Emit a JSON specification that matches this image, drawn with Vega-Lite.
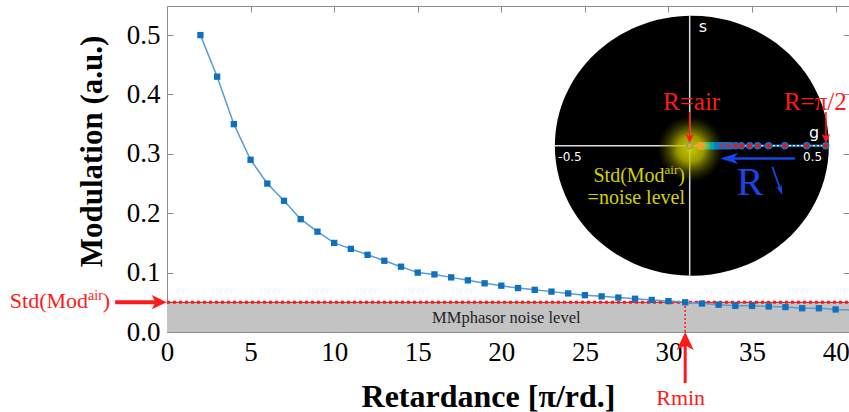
{
  "$schema": "https://vega.github.io/schema/vega-lite/v6.json",
  "width": 682,
  "height": 326,
  "autosize": {"type": "none"},
  "padding": {"left": 167, "top": 6, "right": 0, "bottom": 80},
  "background": "white",
  "config": {"view": {"stroke": null}},
  "datasets": {
    "curve": [
      {"retardance": 2, "modulation": 0.5},
      {"retardance": 3, "modulation": 0.43},
      {"retardance": 4, "modulation": 0.35},
      {"retardance": 5, "modulation": 0.29},
      {"retardance": 6, "modulation": 0.25},
      {"retardance": 7, "modulation": 0.221},
      {"retardance": 8, "modulation": 0.19},
      {"retardance": 9, "modulation": 0.169},
      {"retardance": 10, "modulation": 0.15},
      {"retardance": 11, "modulation": 0.14},
      {"retardance": 12, "modulation": 0.13},
      {"retardance": 13, "modulation": 0.12},
      {"retardance": 14, "modulation": 0.11},
      {"retardance": 15, "modulation": 0.1},
      {"retardance": 16, "modulation": 0.097},
      {"retardance": 17, "modulation": 0.092},
      {"retardance": 18, "modulation": 0.087},
      {"retardance": 19, "modulation": 0.082},
      {"retardance": 20, "modulation": 0.078},
      {"retardance": 21, "modulation": 0.074},
      {"retardance": 22, "modulation": 0.071},
      {"retardance": 23, "modulation": 0.068},
      {"retardance": 24, "modulation": 0.065},
      {"retardance": 25, "modulation": 0.062},
      {"retardance": 26, "modulation": 0.06},
      {"retardance": 27, "modulation": 0.058},
      {"retardance": 28, "modulation": 0.056},
      {"retardance": 29, "modulation": 0.054},
      {"retardance": 30, "modulation": 0.052},
      {"retardance": 31, "modulation": 0.05},
      {"retardance": 32, "modulation": 0.048},
      {"retardance": 33, "modulation": 0.046},
      {"retardance": 34, "modulation": 0.044},
      {"retardance": 35, "modulation": 0.044},
      {"retardance": 36, "modulation": 0.043},
      {"retardance": 37, "modulation": 0.042},
      {"retardance": 38, "modulation": 0.04},
      {"retardance": 39, "modulation": 0.04},
      {"retardance": 40, "modulation": 0.038},
      {"retardance": 41, "modulation": 0.037}
    ]
  },
  "resolve": {"scale": {"x": "independent", "y": "independent"}},
  "layer": [
    {
      "layer": [
        {
          "data": {"values": [{}]},
          "mark": {"type": "rect", "color": "#c3c3c3"},
          "encoding": {
            "x": {"datum": 0, "type": "quantitative", "scale": {"domain": [0, 40.8], "nice": false, "zero": false},
              "axis": {"values": [0, 5, 10, 15, 20, 25, 30, 35, 40], "format": "d", "grid": false, "tickSize": -6, "labelPadding": 13, "labelFont": "Liberation Serif", "labelFontSize": 27, "labelColor": "black", "labelFlush": false, "labelOverlap": false, "domainColor": "#8c8c8c", "tickColor": "#8c8c8c", "title": "Retardance [π/rd.]", "titleFont": "Liberation Serif", "titleFontSize": 32, "titleFontWeight": "bold", "titleColor": "black", "titleX": 321, "titleY": 74, "titleBaseline": "alphabetic"}},
            "x2": {"datum": 40.8},
            "y": {"datum": 0, "type": "quantitative", "scale": {"domain": [0, 0.549], "nice": false, "zero": false},
              "axis": {"values": [0, 0.1, 0.2, 0.3, 0.4, 0.5], "format": ".1f", "grid": false, "tickSize": -6, "labelPadding": 13, "labelFont": "Liberation Serif", "labelFontSize": 27, "labelColor": "black", "labelFlush": false, "labelOverlap": false, "domainColor": "#8c8c8c", "tickColor": "#8c8c8c", "title": "Modulation (a.u.)", "titleFont": "Liberation Serif", "titleFontSize": 31, "titleFontWeight": "bold", "titleColor": "black", "titleX": -66, "titleY": 145, "titleBaseline": "alphabetic"}},
            "y2": {"datum": 0.05}
          }
        },
        {
          "data": {"values": [{}]},
          "mark": {"type": "text", "text": "MMphasor noise level", "font": "Liberation Serif", "fontSize": 16.5, "color": "#222222", "align": "center", "baseline": "alphabetic"},
          "encoding": {"x": {"datum": 20.3, "type": "quantitative"}, "y": {"datum": 0.0152, "type": "quantitative"}}
        },
        {
          "data": {"values": [{}]},
          "mark": {"type": "rule", "color": "#a01818", "strokeWidth": 1},
          "encoding": {"x": {"datum": 0, "type": "quantitative"}, "x2": {"datum": 40.8}, "y": {"datum": 0.05, "type": "quantitative"}}
        },
        {
          "data": {"values": [{}]},
          "mark": {"type": "rule", "color": "#ff1a1a", "strokeWidth": 3, "strokeDash": [3, 3]},
          "encoding": {"x": {"datum": 0, "type": "quantitative"}, "x2": {"datum": 40.8}, "y": {"datum": 0.05, "type": "quantitative"}}
        },
        {
          "data": {"values": [{}]},
          "mark": {"type": "rule", "color": "#ff1a1a", "strokeWidth": 1.5, "strokeDash": [2, 2]},
          "encoding": {"x": {"datum": 31, "type": "quantitative"}, "y": {"datum": 0, "type": "quantitative"}, "y2": {"datum": 0.05}}
        },
        {
          "data": {"name": "curve"},
          "mark": {"type": "line", "color": "#5b9bd5", "strokeWidth": 1.5},
          "encoding": {"x": {"field": "retardance", "type": "quantitative"}, "y": {"field": "modulation", "type": "quantitative"}}
        },
        {
          "data": {"name": "curve"},
          "mark": {"type": "point", "shape": "square", "filled": true, "color": "#1070c0", "size": 40, "opacity": 1},
          "encoding": {"x": {"field": "retardance", "type": "quantitative"}, "y": {"field": "modulation", "type": "quantitative"}}
        },
        {
          "data": {"values": [{}]},
          "mark": {"type": "rule", "color": "#ff1a1a", "strokeWidth": 4},
          "encoding": {"x": {"datum": -3.1, "type": "quantitative"}, "x2": {"datum": -0.6}, "y": {"datum": 0.0502, "type": "quantitative"}}
        },
        {
          "data": {"values": [{}]},
          "mark": {"type": "point", "shape": "M1,0L-1,0.95L-0.5,0L-1,-0.95Z", "filled": true, "color": "#ff1a1a", "size": 225, "opacity": 1},
          "encoding": {"x": {"datum": -0.466, "type": "quantitative"}, "y": {"datum": 0.0502, "type": "quantitative"}}
        },
        {
          "data": {"values": [{}]},
          "mark": {"type": "text", "text": ")", "font": "Liberation Serif", "fontSize": 22, "color": "#ff1a1a", "align": "right", "baseline": "alphabetic"},
          "encoding": {"x": {"datum": -3.4, "type": "quantitative"}, "y": {"datum": 0.0404, "type": "quantitative"}}
        },
        {
          "data": {"values": [{}]},
          "mark": {"type": "text", "text": "air", "font": "Liberation Serif", "fontSize": 14, "color": "#ff1a1a", "align": "right", "baseline": "alphabetic", "dx": -7.3, "dy": -8},
          "encoding": {"x": {"datum": -3.4, "type": "quantitative"}, "y": {"datum": 0.0404, "type": "quantitative"}}
        },
        {
          "data": {"values": [{}]},
          "mark": {"type": "text", "text": "Std(Mod", "font": "Liberation Serif", "fontSize": 22, "color": "#ff1a1a", "align": "right", "baseline": "alphabetic", "dx": -22.1},
          "encoding": {"x": {"datum": -3.4, "type": "quantitative"}, "y": {"datum": 0.0404, "type": "quantitative"}}
        },
        {
          "data": {"values": [{}]},
          "mark": {"type": "rule", "color": "#ff1a1a", "strokeWidth": 3},
          "encoding": {"x": {"datum": 31, "type": "quantitative"}, "y": {"datum": -0.0859, "type": "quantitative"}, "y2": {"datum": -0.0152}}
        },
        {
          "data": {"values": [{}]},
          "mark": {"type": "point", "shape": "M0,-1L0.95,1L0,0.5L-0.95,1Z", "filled": true, "color": "#ff1a1a", "size": 324, "opacity": 1},
          "encoding": {"x": {"datum": 31, "type": "quantitative"}, "y": {"datum": -0.0152, "type": "quantitative"}}
        },
        {
          "data": {"values": [{}]},
          "mark": {"type": "text", "text": "Rmin", "font": "Liberation Serif", "fontSize": 22, "color": "#ff1a1a", "align": "center", "baseline": "alphabetic"},
          "encoding": {"x": {"datum": 30.73, "type": "quantitative"}, "y": {"datum": -0.1233, "type": "quantitative"}}
        }
      ]
    },
    {
      "layer": [
        {
          "data": {"values": [{}]},
          "mark": {"type": "point", "shape": "M-1,0A1,0.949,0,1,1,1,0A1,0.949,0,1,1,-1,0Z", "filled": true, "color": "black", "size": 75076, "opacity": 1},
          "encoding": {
            "x": {"datum": 0.008, "type": "quantitative", "scale": {"domain": [-1.9217, 0.5857], "nice": false, "zero": false}, "axis": null},
            "y": {"datum": 0, "type": "quantitative", "scale": {"domain": [-0.6849, 0.5136], "nice": false, "zero": false}, "axis": null}
          }
        },
        {
          "data": {"values": [{}]},
          "mark": {"type": "rule", "color": "#dddddd", "strokeWidth": 1.5},
          "encoding": {"x": {"datum": -0.497, "type": "quantitative", "axis": null}, "x2": {"datum": 0.51}, "y": {"datum": 0, "type": "quantitative", "axis": null}}
        },
        {
          "data": {"values": [{}]},
          "mark": {"type": "rule", "color": "#dddddd", "strokeWidth": 1.5},
          "encoding": {"x": {"datum": 0, "type": "quantitative", "axis": null}, "y": {"datum": -0.478, "type": "quantitative", "axis": null}, "y2": {"datum": 0.478}}
        },
        {
          "data": {"values": [{}]},
          "mark": {"type": "point", "shape": "circle", "filled": true, "size": 4400, "opacity": 1, "strokeWidth": 0,
            "fill": {"gradient": "radial", "stops": [{"offset": 0, "color": "rgba(215,215,0,0.95)"}, {"offset": 0.4, "color": "rgba(190,190,0,0.8)"}, {"offset": 0.7, "color": "rgba(140,140,0,0.4)"}, {"offset": 1, "color": "rgba(90,90,0,0)"}]}},
          "encoding": {"x": {"datum": 0.003, "type": "quantitative", "axis": null}, "y": {"datum": -0.012, "type": "quantitative", "axis": null}}
        },
        {
          "data": {"values": [{}]},
          "mark": {"type": "rule", "color": "#1f6fc0", "strokeWidth": 2.5},
          "encoding": {"x": {"datum": 0.037, "type": "quantitative", "axis": null}, "x2": {"datum": 0.5}, "y": {"datum": 0, "type": "quantitative", "axis": null}}
        },
        {
          "data": {"values": [{}]},
          "mark": {"type": "rule", "color": "#ffffff", "strokeWidth": 1.2, "strokeDash": [2, 2]},
          "encoding": {"x": {"datum": 0.1, "type": "quantitative", "axis": null}, "x2": {"datum": 0.5}, "y": {"datum": 0, "type": "quantitative", "axis": null}}
        },
        {
          "data": {"name": "curve"},
          "mark": {"type": "point", "shape": "circle", "filled": true, "size": 36, "strokeWidth": 1.5, "opacity": 1},
          "encoding": {
            "x": {"field": "modulation", "type": "quantitative", "axis": null},
            "y": {"datum": 0, "type": "quantitative", "axis": null},
            "fill": {"field": "modulation", "type": "quantitative", "legend": null,
              "scale": {"type": "linear", "domain": [0.037, 0.045, 0.06, 0.075, 0.09, 0.104, 0.105, 0.5], "range": ["#f0a030", "#9cc040", "#4cb070", "#26a0b4", "#1f70c4", "#1f70c4", "#e8141c", "#e8141c"]}},
            "stroke": {"field": "modulation", "type": "quantitative", "legend": null,
              "scale": {"type": "linear", "domain": [0.037, 0.045, 0.06, 0.075, 0.09, 0.5], "range": ["#f0a030", "#9cc040", "#4cb070", "#26a0b4", "#1f70c4", "#1f70c4"]}}
          }
        },
        {
          "data": {"values": [{}]},
          "mark": {"type": "point", "shape": "circle", "filled": true, "size": 36, "color": "#f0a030", "stroke": "#80b050", "strokeWidth": 1.5, "opacity": 1},
          "encoding": {"x": {"datum": 0, "type": "quantitative", "axis": null}, "y": {"datum": 0, "type": "quantitative", "axis": null}}
        },
        {
          "data": {"values": [{}]},
          "mark": {"type": "text", "text": "R=air", "font": "Liberation Serif", "fontSize": 25, "color": "#ff1a1a", "align": "center", "baseline": "alphabetic"},
          "encoding": {"x": {"datum": 0.007, "type": "quantitative", "axis": null}, "y": {"datum": 0.131, "type": "quantitative", "axis": null}}
        },
        {
          "data": {"values": [{}]},
          "mark": {"type": "rule", "color": "#ff1a1a", "strokeWidth": 1.5},
          "encoding": {"x": {"datum": 0, "type": "quantitative", "axis": null}, "y": {"datum": 0.124, "type": "quantitative", "axis": null}, "y2": {"datum": 0.0265}}
        },
        {
          "data": {"values": [{}]},
          "mark": {"type": "point", "shape": "M0,1L0.95,-1L0,-0.5L-0.95,-1Z", "filled": true, "color": "#ff1a1a", "size": 81, "opacity": 1},
          "encoding": {"x": {"datum": 0, "type": "quantitative", "axis": null}, "y": {"datum": 0.0265, "type": "quantitative", "axis": null}}
        },
        {
          "data": {"values": [{}]},
          "mark": {"type": "text", "text": "R=π/2", "font": "Liberation Serif", "fontSize": 25, "color": "#ff1a1a", "align": "center", "baseline": "alphabetic"},
          "encoding": {"x": {"datum": 0.462, "type": "quantitative", "axis": null}, "y": {"datum": 0.131, "type": "quantitative", "axis": null}}
        },
        {
          "data": {"values": [{}]},
          "mark": {"type": "rule", "color": "#ff1a1a", "strokeWidth": 1.5},
          "encoding": {"x": {"datum": 0.501, "type": "quantitative", "axis": null}, "y": {"datum": 0.124, "type": "quantitative", "axis": null}, "y2": {"datum": 0.0265}}
        },
        {
          "data": {"values": [{}]},
          "mark": {"type": "point", "shape": "M0,1L0.95,-1L0,-0.5L-0.95,-1Z", "filled": true, "color": "#ff1a1a", "size": 81, "opacity": 1},
          "encoding": {"x": {"datum": 0.501, "type": "quantitative", "axis": null}, "y": {"datum": 0.0265, "type": "quantitative", "axis": null}}
        },
        {
          "data": {"values": [{}]},
          "mark": {"type": "text", "text": ")", "font": "Liberation Serif", "fontSize": 20, "color": "#d4d000", "align": "right", "baseline": "alphabetic"},
          "encoding": {"x": {"datum": -0.0173, "type": "quantitative", "axis": null}, "y": {"datum": -0.1324, "type": "quantitative", "axis": null}}
        },
        {
          "data": {"values": [{}]},
          "mark": {"type": "text", "text": "air", "font": "Liberation Serif", "fontSize": 13, "color": "#d4d000", "align": "right", "baseline": "alphabetic", "dx": -6.7, "dy": -8},
          "encoding": {"x": {"datum": -0.0173, "type": "quantitative", "axis": null}, "y": {"datum": -0.1324, "type": "quantitative", "axis": null}}
        },
        {
          "data": {"values": [{}]},
          "mark": {"type": "text", "text": "Std(Mod", "font": "Liberation Serif", "fontSize": 20, "color": "#d4d000", "align": "right", "baseline": "alphabetic", "dx": -20.4},
          "encoding": {"x": {"datum": -0.0173, "type": "quantitative", "axis": null}, "y": {"datum": -0.1324, "type": "quantitative", "axis": null}}
        },
        {
          "data": {"values": [{}]},
          "mark": {"type": "text", "text": "=noise level", "font": "Liberation Serif", "fontSize": 20, "color": "#d4d000", "align": "right", "baseline": "alphabetic"},
          "encoding": {"x": {"datum": -0.0173, "type": "quantitative", "axis": null}, "y": {"datum": -0.2143, "type": "quantitative", "axis": null}}
        },
        {
          "data": {"values": [{}]},
          "mark": {"type": "rule", "color": "#1a44e8", "strokeWidth": 2.5},
          "encoding": {"x": {"datum": 0.1445, "type": "quantitative", "axis": null}, "x2": {"datum": 0.387}, "y": {"datum": -0.047, "type": "quantitative", "axis": null}}
        },
        {
          "data": {"values": [{}]},
          "mark": {"type": "point", "shape": "M-1,0L1,-0.6L0.5,0L1,0.6Z", "filled": true, "color": "#1a44e8", "size": 324, "opacity": 1},
          "encoding": {"x": {"datum": 0.1445, "type": "quantitative", "axis": null}, "y": {"datum": -0.047, "type": "quantitative", "axis": null}}
        },
        {
          "data": {"values": [{}]},
          "mark": {"type": "text", "text": "R", "font": "Liberation Serif", "fontSize": 40, "color": "#1a44e8", "align": "center", "baseline": "alphabetic"},
          "encoding": {"x": {"datum": 0.222, "type": "quantitative", "axis": null}, "y": {"datum": -0.181, "type": "quantitative", "axis": null}}
        },
        {
          "data": {"values": [{}]},
          "mark": {"type": "rule", "color": "#1a44e8", "strokeWidth": 1.8},
          "encoding": {"x": {"datum": 0.304, "type": "quantitative", "axis": null}, "x2": {"datum": 0.334}, "y": {"datum": -0.0772, "type": "quantitative", "axis": null}, "y2": {"datum": -0.164}}
        },
        {
          "data": {"values": [{}]},
          "mark": {"type": "point", "shape": "M0,1L0.6,-1L0,-0.5L-0.6,-1Z", "angle": -19.7, "filled": true, "color": "#1a44e8", "size": 100, "opacity": 1},
          "encoding": {"x": {"datum": 0.334, "type": "quantitative", "axis": null}, "y": {"datum": -0.164, "type": "quantitative", "axis": null}}
        },
        {
          "data": {"values": [{}]},
          "mark": {"type": "text", "text": "s", "font": "DejaVu Sans", "fontSize": 16, "color": "white", "align": "center", "baseline": "middle"},
          "encoding": {"x": {"datum": 0.049, "type": "quantitative", "axis": null}, "y": {"datum": 0.436, "type": "quantitative", "axis": null}}
        },
        {
          "data": {"values": [{}]},
          "mark": {"type": "text", "text": "g", "font": "DejaVu Sans", "fontSize": 16, "color": "white", "align": "center", "baseline": "middle"},
          "encoding": {"x": {"datum": 0.457, "type": "quantitative", "axis": null}, "y": {"datum": 0.047, "type": "quantitative", "axis": null}}
        },
        {
          "data": {"values": [{}]},
          "mark": {"type": "text", "text": "-0.5", "font": "DejaVu Sans", "fontSize": 12, "color": "white", "align": "center", "baseline": "middle"},
          "encoding": {"x": {"datum": -0.44, "type": "quantitative", "axis": null}, "y": {"datum": -0.04, "type": "quantitative", "axis": null}}
        },
        {
          "data": {"values": [{}]},
          "mark": {"type": "text", "text": "0.5", "font": "DejaVu Sans", "fontSize": 12, "color": "white", "align": "center", "baseline": "middle"},
          "encoding": {"x": {"datum": 0.452, "type": "quantitative", "axis": null}, "y": {"datum": -0.04, "type": "quantitative", "axis": null}}
        }
      ]
    },
    {
      "data": {"values": [{}]},
      "mark": {"type": "point", "opacity": 0},
      "encoding": {
        "x": {"datum": 0, "type": "quantitative", "scale": {"domain": [0, 40.8], "nice": false, "zero": false},
          "axis": {"orient": "top", "values": [0, 5, 10, 15, 20, 25, 30, 35, 40], "labels": false, "grid": false, "tickSize": -6, "domainColor": "#8c8c8c", "tickColor": "#8c8c8c", "title": null}},
        "y": {"datum": 0, "type": "quantitative", "scale": {"domain": [0, 0.549], "nice": false, "zero": false},
          "axis": {"orient": "right", "values": [0, 0.1, 0.2, 0.3, 0.4, 0.5], "labels": false, "grid": false, "domain": false, "tickSize": -6, "tickColor": "#8c8c8c", "title": null}}
      }
    }
  ]
}
